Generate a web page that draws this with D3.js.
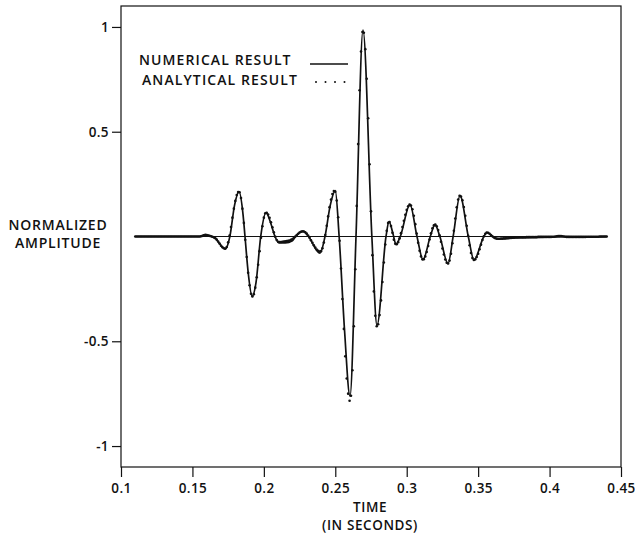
<!DOCTYPE html>
<html>
<head>
<meta charset="utf-8">
<script src="https://cdn.jsdelivr.net/npm/d3@7"></script>
<style>
  body { margin: 0; background: #fff; }
  text { font-family: "Open Sans", "DejaVu Sans", sans-serif; font-weight: 600; fill: #111; }
</style>
</head>
<body>
<div id="chart"></div>
<script>
// tick labels
const xTicks = [0.1, 0.15, 0.2, 0.25, 0.3, 0.35, 0.4, 0.45];
const yTicks = [-1, -0.5, 0.5, 1];

// analytical result, sampled every 1 ms starting at 0.110 s
const analyticalStart = 0.110;
const analyticalStep = 0.001;
const analyticalValues = [
  0, 0, 0, 0, 0, 0, 0, 0, 0, 0,
  0, 0, 0, 0, 0, 0, 0, 0, 0, 0,
  0, 0, 0, 0, 0, 0, 0, 0, 0, 0,
  0, 0, 0, 0, 0, 0, 0, 0, 0, 0,
  0, 0, 0, 0, 0, 0.000, 0.001, 0.003, 0.006, 0.008,
  0.007, 0.005, 0.003, 0.001, -0.001, -0.004, -0.008, -0.015, -0.024, -0.034,
  -0.044, -0.051, -0.056, -0.057, -0.050, -0.028, 0.004, 0.045, 0.090, 0.133,
  0.170, 0.198, 0.212, 0.211, 0.184, 0.133, 0.065, -0.016, -0.098, -0.173,
  -0.233, -0.273, -0.286, -0.275, -0.244, -0.195, -0.135, -0.070, -0.006, 0.049,
  0.090, 0.111, 0.113, 0.105, 0.089, 0.068, 0.044, 0.020, -0.001, -0.017,
  -0.025, -0.026, -0.026, -0.025, -0.024, -0.023, -0.022, -0.021, -0.019, -0.016,
  -0.012, -0.006, 0.000, 0.007, 0.013, 0.019, 0.023, 0.024, 0.024, 0.020,
  0.014, 0.005, -0.006, -0.018, -0.030, -0.042, -0.053, -0.062, -0.068, -0.072,
  -0.070, -0.056, -0.029, 0.007, 0.051, 0.096, 0.140, 0.176, 0.203, 0.217,
  0.214, 0.172, 0.092, -0.020, -0.153, -0.298, -0.441, -0.572, -0.678, -0.750,
  -0.784, -0.760, -0.638, -0.428, -0.156, 0.146, 0.441, 0.698, 0.883, 0.976,
  0.972, 0.894, 0.753, 0.564, 0.345, 0.120, -0.089, -0.262, -0.378, -0.428,
  -0.419, -0.375, -0.305, -0.217, -0.124, -0.038, 0.027, 0.065, 0.069, 0.050,
  0.018, -0.015, -0.035, -0.037, -0.027, -0.009, 0.016, 0.045, 0.075, 0.104,
  0.127, 0.144, 0.152, 0.148, 0.130, 0.099, 0.059, 0.014, -0.030, -0.068,
  -0.095, -0.109, -0.108, -0.095, -0.074, -0.045, -0.014, 0.015, 0.039, 0.053,
  0.057, 0.049, 0.031, 0.006, -0.025, -0.057, -0.086, -0.110, -0.125, -0.129,
  -0.115, -0.082, -0.032, 0.027, 0.086, 0.139, 0.176, 0.194, 0.191, 0.173,
  0.141, 0.099, 0.051, 0.003, -0.042, -0.079, -0.103, -0.112, -0.109, -0.098,
  -0.082, -0.061, -0.039, -0.017, 0.001, 0.013, 0.019, 0.018, 0.013, 0.007,
  0.001, -0.004, -0.008, -0.010, -0.011, -0.011, -0.010, -0.010, -0.009, -0.009,
  -0.008, -0.008, -0.007, -0.007, -0.006, -0.006, -0.005, -0.005, -0.005, -0.004,
  -0.004, -0.004, -0.004, -0.004, -0.003, -0.003, -0.003, -0.003, -0.003, -0.003,
  -0.003, -0.003, -0.002, -0.002, -0.002, -0.002, -0.002, -0.002, -0.002, -0.002,
  -0.002, -0.002, -0.001, -0.001, 0.000, 0.001, 0.002, 0.002, 0.002, 0.001,
  0.000, -0.001, -0.002, -0.002, -0.002, -0.002, -0.002, -0.002, -0.002, -0.002,
  -0.002, -0.002, -0.002, -0.002, -0.002, -0.002, -0.001, -0.001, -0.001, -0.001,
  -0.001, -0.001, -0.001, -0.001, -0.001, 0.000, 0.000, 0.000, 0.000, 0.000, 0.000
];

// numerical result, read at extrema and zero crossings
const numericalTime = [
  0.110, 0.155, 0.159, 0.163, 0.166, 0.1695, 0.173, 0.1762, 0.1795, 0.1826,
  0.1855, 0.1868, 0.189, 0.1918, 0.1945, 0.1978, 0.2015, 0.205, 0.2078, 0.2105,
  0.215, 0.220, 0.2222, 0.2274, 0.2312, 0.2393, 0.2428, 0.2465, 0.2500, 0.2527,
  0.2565, 0.2603, 0.2645, 0.2694, 0.2756, 0.2792, 0.2855, 0.2876, 0.2905, 0.2925,
  0.2955, 0.3023, 0.3072, 0.3114, 0.3165, 0.3198, 0.3232, 0.3289, 0.3325, 0.3373,
  0.3431, 0.3471, 0.354, 0.3562, 0.3605, 0.364, 0.370, 0.378, 0.390, 0.400,
  0.410, 0.420, 0.440
];
const numericalValue = [
  0, 0, 0.008, 0.001, -0.008, -0.038, -0.060, 0.000, 0.150, 0.214,
  0.100, 0.000, -0.170, -0.286, -0.220, 0.000, 0.114, 0.060, 0.000, -0.030,
  -0.030, -0.020, 0.000, 0.026, 0.000, -0.080, 0.000, 0.150, 0.219, 0.000,
  -0.450, -0.762, 0.000, 0.985, 0.000, -0.424, 0.000, 0.071, 0.010, -0.038,
  0.000, 0.152, 0.000, -0.110, 0.000, 0.057, 0.000, -0.129, 0.000, 0.195,
  0.000, -0.112, 0.000, 0.019, -0.002, -0.012, -0.009, -0.006, -0.004, -0.003,
  -0.001, -0.003, -0.001
];

// zero reference line
const zeroLineTime = [0.11, 0.44];

const width = 635, height = 543;
const margin = { top: 6, right: 14, bottom: 76, left: 121 };

const svg = d3.select("#chart").append("svg")
  .attr("width", width)
  .attr("height", height);

const x = d3.scaleLinear()
  .domain([0.1, 0.45])
  .range([margin.left, width - margin.right]);
const y = d3.scaleLinear()
  .domain([-1.1, 1.1])
  .range([height - margin.bottom, margin.top]);

// frame
svg.append("rect")
  .attr("x", x(0.1))
  .attr("y", y(1.1))
  .attr("width", x(0.45) - x(0.1))
  .attr("height", y(-1.1) - y(1.1))
  .attr("fill", "none")
  .attr("stroke", "#111")
  .attr("stroke-width", 1.2);

// axes
const xAxis = svg.append("g")
  .attr("transform", "translate(0," + y(-1.1) + ")")
  .call(d3.axisBottom(x).tickValues(xTicks).tickSize(10).tickPadding(6)
    .tickFormat(d => String(d)));
const yAxis = svg.append("g")
  .attr("transform", "translate(" + x(0.1) + ",0)")
  .call(d3.axisLeft(y).tickValues(yTicks).tickSize(9).tickPadding(3)
    .tickFormat(d => String(d)));
[xAxis, yAxis].forEach(g => {
  g.select(".domain").remove();
  g.selectAll(".tick line").attr("stroke", "#111").attr("stroke-width", 1.2);
  g.selectAll(".tick text").style("font-size", "13.5px").style("letter-spacing", "0.4px").attr("fill", "#111");
});

// zero line
svg.append("path")
  .datum(zeroLineTime)
  .attr("fill", "none")
  .attr("stroke", "#111")
  .attr("stroke-width", 1.1)
  .attr("d", d3.line().x(d => x(d)).y(() => y(0)));

// numerical result (solid)
const numerical = numericalTime.map((t, i) => ({ t: t, v: numericalValue[i] }));
svg.append("path")
  .datum(numerical)
  .attr("fill", "none")
  .attr("stroke", "#111")
  .attr("stroke-width", 1.7)
  .attr("d", d3.line().curve(d3.curveMonotoneX).x(d => x(d.t)).y(d => y(d.v)));

// analytical result (dots)
const analytical = analyticalValues.map((v, i) => ({ t: analyticalStart + i * analyticalStep, v: v }));
svg.append("g").selectAll("circle")
  .data(analytical)
  .enter().append("circle")
  .attr("cx", d => x(d.t))
  .attr("cy", d => y(d.v))
  .attr("r", 1.3)
  .attr("fill", "#111");

// legend
const legend = svg.append("g");
legend.append("text").attr("x", 139).attr("y", 65)
  .style("font-size", "14px").style("letter-spacing", "1.1px").text("NUMERICAL RESULT");
legend.append("text").attr("x", 142).attr("y", 85)
  .style("font-size", "14px").style("letter-spacing", "1.1px").text("ANALYTICAL RESULT");
legend.append("line")
  .attr("x1", 310).attr("x2", 348).attr("y1", 64).attr("y2", 64)
  .attr("stroke", "#111").attr("stroke-width", 1.4);
legend.selectAll("circle.key")
  .data([0, 1, 2, 3])
  .enter().append("circle")
  .attr("class", "key")
  .attr("cx", d => 316 + d * 9.5)
  .attr("cy", 82)
  .attr("r", 1)
  .attr("fill", "#111");

// axis titles
svg.append("text").attr("x", 58).attr("y", 230).attr("text-anchor", "middle")
  .style("font-size", "14px").style("letter-spacing", "0.8px").text("NORMALIZED");
svg.append("text").attr("x", 58).attr("y", 248).attr("text-anchor", "middle")
  .style("font-size", "14px").style("letter-spacing", "0.8px").text("AMPLITUDE");
svg.append("text").attr("x", 370).attr("y", 512).attr("text-anchor", "middle")
  .style("font-size", "13.5px").style("letter-spacing", "0.6px").text("TIME");
svg.append("text").attr("x", 370).attr("y", 530).attr("text-anchor", "middle")
  .style("font-size", "13.5px").style("letter-spacing", "0.6px").text("(IN SECONDS)");
</script>
</body>
</html>
